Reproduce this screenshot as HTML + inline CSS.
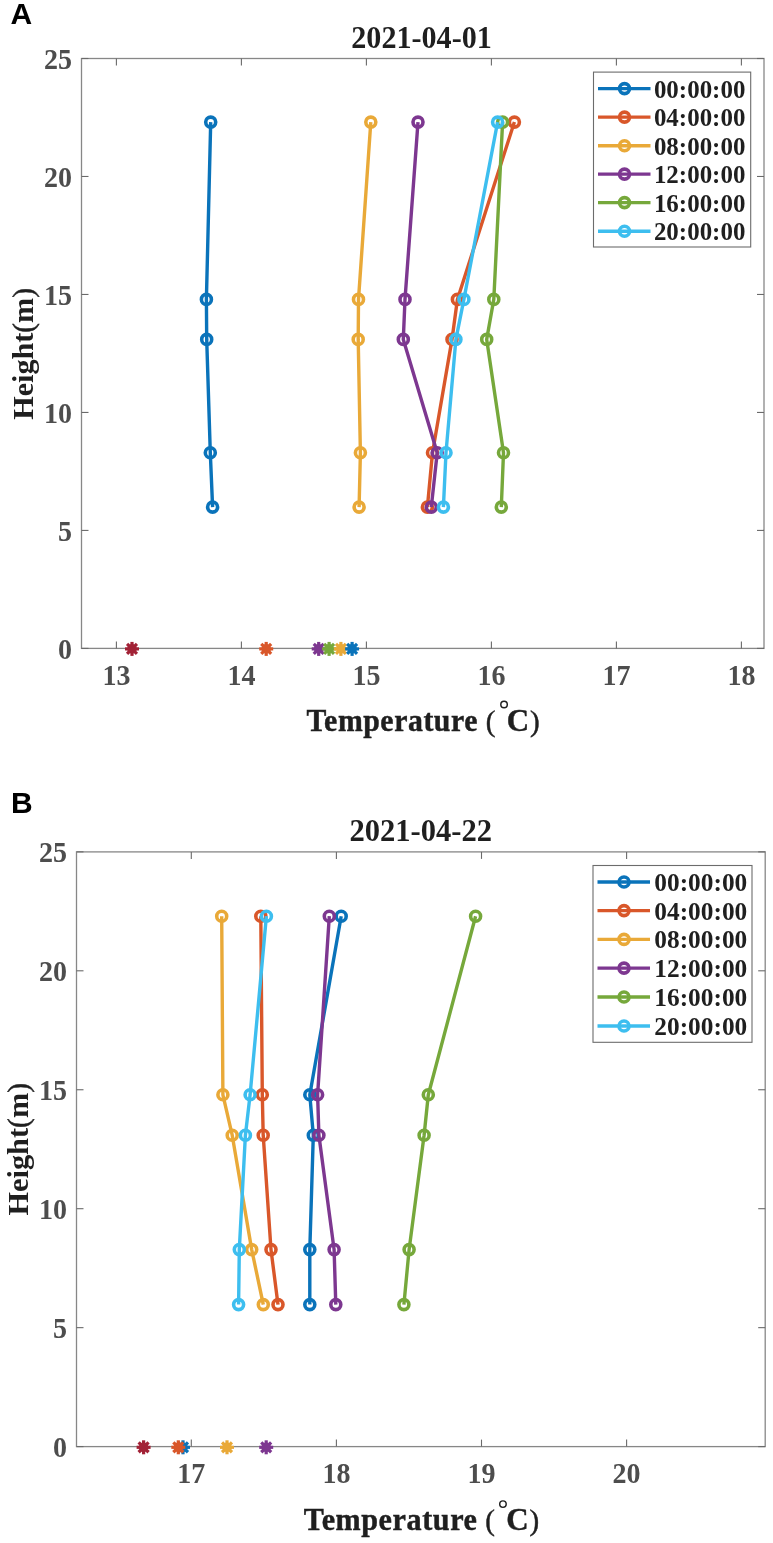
<!DOCTYPE html>
<html><head><meta charset="utf-8"><style>
html,body{margin:0;padding:0;background:#fff;}
body{width:773px;height:1543px;overflow:hidden;position:relative;}
svg{position:absolute;left:0;top:0;will-change:transform;}
text{font-family:"Liberation Serif",serif;font-weight:bold;}
.tk{font-size:29.5px;fill:#4d4d4d;}
.ti{font-size:31px;fill:#1f1f1f;}
.lg{font-size:25px;fill:#1f1f1f;}
.xl{font-size:31px;fill:#1f1f1f;}
.pr{font-size:29px;font-weight:normal;fill:#1f1f1f;stroke:#1f1f1f;stroke-width:0.5px;}
.deg{font-size:13px;font-weight:normal;fill:#1f1f1f;}
.lt{font-family:"Liberation Sans",sans-serif;font-size:30px;fill:#000;}
</style></head><body>
<svg width="773" height="1543" viewBox="0 0 773 1543">
<rect width="773" height="1543" fill="#fff"/>
<rect x="81.5" y="58.5" width="682.5" height="589.9" fill="none" stroke="#878787" stroke-width="1.3"/>
<line x1="116.4" y1="648.4" x2="116.4" y2="641.4" stroke="#6a6a6a" stroke-width="1.1"/>
<line x1="116.4" y1="58.5" x2="116.4" y2="65.5" stroke="#6a6a6a" stroke-width="1.1"/>
<text x="116.4" y="684.5" text-anchor="middle" class="tk" textLength="28" lengthAdjust="spacingAndGlyphs">13</text>
<line x1="241.4" y1="648.4" x2="241.4" y2="641.4" stroke="#6a6a6a" stroke-width="1.1"/>
<line x1="241.4" y1="58.5" x2="241.4" y2="65.5" stroke="#6a6a6a" stroke-width="1.1"/>
<text x="241.4" y="684.5" text-anchor="middle" class="tk" textLength="28" lengthAdjust="spacingAndGlyphs">14</text>
<line x1="366.4" y1="648.4" x2="366.4" y2="641.4" stroke="#6a6a6a" stroke-width="1.1"/>
<line x1="366.4" y1="58.5" x2="366.4" y2="65.5" stroke="#6a6a6a" stroke-width="1.1"/>
<text x="366.4" y="684.5" text-anchor="middle" class="tk" textLength="28" lengthAdjust="spacingAndGlyphs">15</text>
<line x1="491.4" y1="648.4" x2="491.4" y2="641.4" stroke="#6a6a6a" stroke-width="1.1"/>
<line x1="491.4" y1="58.5" x2="491.4" y2="65.5" stroke="#6a6a6a" stroke-width="1.1"/>
<text x="491.4" y="684.5" text-anchor="middle" class="tk" textLength="28" lengthAdjust="spacingAndGlyphs">16</text>
<line x1="616.4" y1="648.4" x2="616.4" y2="641.4" stroke="#6a6a6a" stroke-width="1.1"/>
<line x1="616.4" y1="58.5" x2="616.4" y2="65.5" stroke="#6a6a6a" stroke-width="1.1"/>
<text x="616.4" y="684.5" text-anchor="middle" class="tk" textLength="28" lengthAdjust="spacingAndGlyphs">17</text>
<line x1="741.4" y1="648.4" x2="741.4" y2="641.4" stroke="#6a6a6a" stroke-width="1.1"/>
<line x1="741.4" y1="58.5" x2="741.4" y2="65.5" stroke="#6a6a6a" stroke-width="1.1"/>
<text x="741.4" y="684.5" text-anchor="middle" class="tk" textLength="28" lengthAdjust="spacingAndGlyphs">18</text>
<line x1="81.5" y1="648.40" x2="88.5" y2="648.40" stroke="#6a6a6a" stroke-width="1.1"/>
<line x1="764.0" y1="648.40" x2="757.0" y2="648.40" stroke="#6a6a6a" stroke-width="1.1"/>
<text x="72.1" y="658.60" text-anchor="end" class="tk" textLength="14" lengthAdjust="spacingAndGlyphs">0</text>
<line x1="81.5" y1="530.42" x2="88.5" y2="530.42" stroke="#6a6a6a" stroke-width="1.1"/>
<line x1="764.0" y1="530.42" x2="757.0" y2="530.42" stroke="#6a6a6a" stroke-width="1.1"/>
<text x="72.1" y="540.62" text-anchor="end" class="tk" textLength="14" lengthAdjust="spacingAndGlyphs">5</text>
<line x1="81.5" y1="412.44" x2="88.5" y2="412.44" stroke="#6a6a6a" stroke-width="1.1"/>
<line x1="764.0" y1="412.44" x2="757.0" y2="412.44" stroke="#6a6a6a" stroke-width="1.1"/>
<text x="72.1" y="422.64" text-anchor="end" class="tk" textLength="28" lengthAdjust="spacingAndGlyphs">10</text>
<line x1="81.5" y1="294.46" x2="88.5" y2="294.46" stroke="#6a6a6a" stroke-width="1.1"/>
<line x1="764.0" y1="294.46" x2="757.0" y2="294.46" stroke="#6a6a6a" stroke-width="1.1"/>
<text x="72.1" y="304.66" text-anchor="end" class="tk" textLength="28" lengthAdjust="spacingAndGlyphs">15</text>
<line x1="81.5" y1="176.48" x2="88.5" y2="176.48" stroke="#6a6a6a" stroke-width="1.1"/>
<line x1="764.0" y1="176.48" x2="757.0" y2="176.48" stroke="#6a6a6a" stroke-width="1.1"/>
<text x="72.1" y="186.68" text-anchor="end" class="tk" textLength="28" lengthAdjust="spacingAndGlyphs">20</text>
<line x1="81.5" y1="58.50" x2="88.5" y2="58.50" stroke="#6a6a6a" stroke-width="1.1"/>
<line x1="764.0" y1="58.50" x2="757.0" y2="58.50" stroke="#6a6a6a" stroke-width="1.1"/>
<text x="72.1" y="68.70" text-anchor="end" class="tk" textLength="28" lengthAdjust="spacingAndGlyphs">25</text>
<polyline points="210.7,122.1 206.4,299.4 206.7,339.4 210.3,452.7 212.6,507.1" fill="none" stroke="#0A73BA" stroke-width="3.4" stroke-linejoin="round"/>
<circle cx="210.7" cy="122.1" r="5" fill="none" stroke="#0A73BA" stroke-width="3.6"/>
<circle cx="206.4" cy="299.4" r="5" fill="none" stroke="#0A73BA" stroke-width="3.6"/>
<circle cx="206.7" cy="339.4" r="5" fill="none" stroke="#0A73BA" stroke-width="3.6"/>
<circle cx="210.3" cy="452.7" r="5" fill="none" stroke="#0A73BA" stroke-width="3.6"/>
<circle cx="212.6" cy="507.1" r="5" fill="none" stroke="#0A73BA" stroke-width="3.6"/>
<polyline points="514.4,122.1 457.4,299.4 452.0,339.4 432.5,452.7 427.4,507.1" fill="none" stroke="#D9572A" stroke-width="3.4" stroke-linejoin="round"/>
<circle cx="514.4" cy="122.1" r="5" fill="none" stroke="#D9572A" stroke-width="3.6"/>
<circle cx="457.4" cy="299.4" r="5" fill="none" stroke="#D9572A" stroke-width="3.6"/>
<circle cx="452.0" cy="339.4" r="5" fill="none" stroke="#D9572A" stroke-width="3.6"/>
<circle cx="432.5" cy="452.7" r="5" fill="none" stroke="#D9572A" stroke-width="3.6"/>
<circle cx="427.4" cy="507.1" r="5" fill="none" stroke="#D9572A" stroke-width="3.6"/>
<polyline points="370.8,122.1 358.5,299.4 358.2,339.4 360.4,452.7 359.1,507.1" fill="none" stroke="#E9A938" stroke-width="3.4" stroke-linejoin="round"/>
<circle cx="370.8" cy="122.1" r="5" fill="none" stroke="#E9A938" stroke-width="3.6"/>
<circle cx="358.5" cy="299.4" r="5" fill="none" stroke="#E9A938" stroke-width="3.6"/>
<circle cx="358.2" cy="339.4" r="5" fill="none" stroke="#E9A938" stroke-width="3.6"/>
<circle cx="360.4" cy="452.7" r="5" fill="none" stroke="#E9A938" stroke-width="3.6"/>
<circle cx="359.1" cy="507.1" r="5" fill="none" stroke="#E9A938" stroke-width="3.6"/>
<polyline points="418.0,122.1 405.0,299.4 403.3,339.4 437.2,452.7 431.3,507.1" fill="none" stroke="#7D3790" stroke-width="3.4" stroke-linejoin="round"/>
<circle cx="418.0" cy="122.1" r="5" fill="none" stroke="#7D3790" stroke-width="3.6"/>
<circle cx="405.0" cy="299.4" r="5" fill="none" stroke="#7D3790" stroke-width="3.6"/>
<circle cx="403.3" cy="339.4" r="5" fill="none" stroke="#7D3790" stroke-width="3.6"/>
<circle cx="437.2" cy="452.7" r="5" fill="none" stroke="#7D3790" stroke-width="3.6"/>
<circle cx="431.3" cy="507.1" r="5" fill="none" stroke="#7D3790" stroke-width="3.6"/>
<polyline points="502.6,122.1 493.8,299.4 486.7,339.4 503.5,452.7 501.3,507.1" fill="none" stroke="#76A83B" stroke-width="3.4" stroke-linejoin="round"/>
<circle cx="502.6" cy="122.1" r="5" fill="none" stroke="#76A83B" stroke-width="3.6"/>
<circle cx="493.8" cy="299.4" r="5" fill="none" stroke="#76A83B" stroke-width="3.6"/>
<circle cx="486.7" cy="339.4" r="5" fill="none" stroke="#76A83B" stroke-width="3.6"/>
<circle cx="503.5" cy="452.7" r="5" fill="none" stroke="#76A83B" stroke-width="3.6"/>
<circle cx="501.3" cy="507.1" r="5" fill="none" stroke="#76A83B" stroke-width="3.6"/>
<polyline points="497.6,122.1 463.9,299.4 455.9,339.4 446.0,452.7 443.4,507.1" fill="none" stroke="#3DBEEF" stroke-width="3.4" stroke-linejoin="round"/>
<circle cx="497.6" cy="122.1" r="5" fill="none" stroke="#3DBEEF" stroke-width="3.6"/>
<circle cx="463.9" cy="299.4" r="5" fill="none" stroke="#3DBEEF" stroke-width="3.6"/>
<circle cx="455.9" cy="339.4" r="5" fill="none" stroke="#3DBEEF" stroke-width="3.6"/>
<circle cx="446.0" cy="452.7" r="5" fill="none" stroke="#3DBEEF" stroke-width="3.6"/>
<circle cx="443.4" cy="507.1" r="5" fill="none" stroke="#3DBEEF" stroke-width="3.6"/>
<g stroke="#A22236" stroke-width="3.2"><line x1="125.00" y1="648.90" x2="139.00" y2="648.90"/><line x1="127.05" y1="643.95" x2="136.95" y2="653.85"/><line x1="132.00" y1="641.90" x2="132.00" y2="655.90"/><line x1="136.95" y1="643.95" x2="127.05" y2="653.85"/><circle cx="132.0" cy="648.9" r="4.8" fill="#A22236" stroke="none"/></g>
<g stroke="#D9572A" stroke-width="3.2"><line x1="259.20" y1="648.90" x2="273.20" y2="648.90"/><line x1="261.25" y1="643.95" x2="271.15" y2="653.85"/><line x1="266.20" y1="641.90" x2="266.20" y2="655.90"/><line x1="271.15" y1="643.95" x2="261.25" y2="653.85"/><circle cx="266.2" cy="648.9" r="4.8" fill="#D9572A" stroke="none"/></g>
<g stroke="#7D3790" stroke-width="3.2"><line x1="311.70" y1="648.90" x2="325.70" y2="648.90"/><line x1="313.75" y1="643.95" x2="323.65" y2="653.85"/><line x1="318.70" y1="641.90" x2="318.70" y2="655.90"/><line x1="323.65" y1="643.95" x2="313.75" y2="653.85"/><circle cx="318.7" cy="648.9" r="4.8" fill="#7D3790" stroke="none"/></g>
<g stroke="#76A83B" stroke-width="3.2"><line x1="322.10" y1="648.90" x2="336.10" y2="648.90"/><line x1="324.15" y1="643.95" x2="334.05" y2="653.85"/><line x1="329.10" y1="641.90" x2="329.10" y2="655.90"/><line x1="334.05" y1="643.95" x2="324.15" y2="653.85"/><circle cx="329.1" cy="648.9" r="4.8" fill="#76A83B" stroke="none"/></g>
<g stroke="#E9A938" stroke-width="3.2"><line x1="333.90" y1="648.90" x2="347.90" y2="648.90"/><line x1="335.95" y1="643.95" x2="345.85" y2="653.85"/><line x1="340.90" y1="641.90" x2="340.90" y2="655.90"/><line x1="345.85" y1="643.95" x2="335.95" y2="653.85"/><circle cx="340.9" cy="648.9" r="4.8" fill="#E9A938" stroke="none"/></g>
<g stroke="#0A73BA" stroke-width="3.2"><line x1="345.10" y1="648.90" x2="359.10" y2="648.90"/><line x1="347.15" y1="643.95" x2="357.05" y2="653.85"/><line x1="352.10" y1="641.90" x2="352.10" y2="655.90"/><line x1="357.05" y1="643.95" x2="347.15" y2="653.85"/><circle cx="352.1" cy="648.9" r="4.8" fill="#0A73BA" stroke="none"/></g>
<text x="351.3" y="48.2" class="ti" textLength="140.5" lengthAdjust="spacingAndGlyphs">2021-04-01</text>
<rect x="593.5" y="72.1" width="157.20000000000005" height="174.9" fill="#fff" stroke="#6c6c6c" stroke-width="1.1"/>
<line x1="598.0" y1="88.6" x2="650.5" y2="88.6" stroke="#0A73BA" stroke-width="3.4"/>
<circle cx="624.5" cy="88.6" r="5" fill="none" stroke="#0A73BA" stroke-width="3.6"/>
<text x="653.9" y="97.5" class="lg" textLength="91.5" lengthAdjust="spacingAndGlyphs">00:00:00</text>
<line x1="598.0" y1="117.1" x2="650.5" y2="117.1" stroke="#D9572A" stroke-width="3.4"/>
<circle cx="624.5" cy="117.1" r="5" fill="none" stroke="#D9572A" stroke-width="3.6"/>
<text x="653.9" y="126.0" class="lg" textLength="91.5" lengthAdjust="spacingAndGlyphs">04:00:00</text>
<line x1="598.0" y1="145.7" x2="650.5" y2="145.7" stroke="#E9A938" stroke-width="3.4"/>
<circle cx="624.5" cy="145.7" r="5" fill="none" stroke="#E9A938" stroke-width="3.6"/>
<text x="653.9" y="154.6" class="lg" textLength="91.5" lengthAdjust="spacingAndGlyphs">08:00:00</text>
<line x1="598.0" y1="174.1" x2="650.5" y2="174.1" stroke="#7D3790" stroke-width="3.4"/>
<circle cx="624.5" cy="174.1" r="5" fill="none" stroke="#7D3790" stroke-width="3.6"/>
<text x="653.9" y="183.0" class="lg" textLength="91.5" lengthAdjust="spacingAndGlyphs">12:00:00</text>
<line x1="598.0" y1="202.6" x2="650.5" y2="202.6" stroke="#76A83B" stroke-width="3.4"/>
<circle cx="624.5" cy="202.6" r="5" fill="none" stroke="#76A83B" stroke-width="3.6"/>
<text x="653.9" y="211.5" class="lg" textLength="91.5" lengthAdjust="spacingAndGlyphs">16:00:00</text>
<line x1="598.0" y1="231.2" x2="650.5" y2="231.2" stroke="#3DBEEF" stroke-width="3.4"/>
<circle cx="624.5" cy="231.2" r="5" fill="none" stroke="#3DBEEF" stroke-width="3.6"/>
<text x="653.9" y="240.1" class="lg" textLength="91.5" lengthAdjust="spacingAndGlyphs">20:00:00</text>
<text x="10.6" y="23.9" class="lt">A</text>
<text x="306.43" y="730.5" class="xl" style="letter-spacing:0.6px;stroke:#1f1f1f;stroke-width:0.45px" textLength="171.6" lengthAdjust="spacingAndGlyphs">Temperature</text>
<text x="485.83" y="730.5" class="pr">(</text>
<circle cx="504.05" cy="704.55" r="3.25" fill="none" stroke="#1f1f1f" stroke-width="1.45"/>
<text x="506.8" y="730.5" class="xl" style="stroke:#1f1f1f;stroke-width:0.4px">C</text>
<text x="529.92" y="730.5" class="pr">)</text>
<text transform="translate(33.2,419.7) rotate(-90)" x="0" y="0" class="xl" style="font-size:30px" textLength="131.59999999999997" lengthAdjust="spacingAndGlyphs">Height<tspan class="pr">(</tspan>m<tspan class="pr">)</tspan></text>
<rect x="76.5" y="851.9" width="688.7" height="594.6999999999999" fill="none" stroke="#878787" stroke-width="1.3"/>
<line x1="191.3" y1="1446.6" x2="191.3" y2="1439.6" stroke="#6a6a6a" stroke-width="1.1"/>
<line x1="191.3" y1="851.9" x2="191.3" y2="858.9" stroke="#6a6a6a" stroke-width="1.1"/>
<text x="191.3" y="1482.6999999999998" text-anchor="middle" class="tk" textLength="28" lengthAdjust="spacingAndGlyphs">17</text>
<line x1="336.4" y1="1446.6" x2="336.4" y2="1439.6" stroke="#6a6a6a" stroke-width="1.1"/>
<line x1="336.4" y1="851.9" x2="336.4" y2="858.9" stroke="#6a6a6a" stroke-width="1.1"/>
<text x="336.4" y="1482.6999999999998" text-anchor="middle" class="tk" textLength="28" lengthAdjust="spacingAndGlyphs">18</text>
<line x1="481.5" y1="1446.6" x2="481.5" y2="1439.6" stroke="#6a6a6a" stroke-width="1.1"/>
<line x1="481.5" y1="851.9" x2="481.5" y2="858.9" stroke="#6a6a6a" stroke-width="1.1"/>
<text x="481.5" y="1482.6999999999998" text-anchor="middle" class="tk" textLength="28" lengthAdjust="spacingAndGlyphs">19</text>
<line x1="626.5999999999999" y1="1446.6" x2="626.5999999999999" y2="1439.6" stroke="#6a6a6a" stroke-width="1.1"/>
<line x1="626.5999999999999" y1="851.9" x2="626.5999999999999" y2="858.9" stroke="#6a6a6a" stroke-width="1.1"/>
<text x="626.5999999999999" y="1482.6999999999998" text-anchor="middle" class="tk" textLength="28" lengthAdjust="spacingAndGlyphs">20</text>
<line x1="76.5" y1="1446.60" x2="83.5" y2="1446.60" stroke="#6a6a6a" stroke-width="1.1"/>
<line x1="765.2" y1="1446.60" x2="758.2" y2="1446.60" stroke="#6a6a6a" stroke-width="1.1"/>
<text x="67.1" y="1456.80" text-anchor="end" class="tk" textLength="14" lengthAdjust="spacingAndGlyphs">0</text>
<line x1="76.5" y1="1327.65" x2="83.5" y2="1327.65" stroke="#6a6a6a" stroke-width="1.1"/>
<line x1="765.2" y1="1327.65" x2="758.2" y2="1327.65" stroke="#6a6a6a" stroke-width="1.1"/>
<text x="67.1" y="1337.85" text-anchor="end" class="tk" textLength="14" lengthAdjust="spacingAndGlyphs">5</text>
<line x1="76.5" y1="1208.70" x2="83.5" y2="1208.70" stroke="#6a6a6a" stroke-width="1.1"/>
<line x1="765.2" y1="1208.70" x2="758.2" y2="1208.70" stroke="#6a6a6a" stroke-width="1.1"/>
<text x="67.1" y="1218.90" text-anchor="end" class="tk" textLength="28" lengthAdjust="spacingAndGlyphs">10</text>
<line x1="76.5" y1="1089.75" x2="83.5" y2="1089.75" stroke="#6a6a6a" stroke-width="1.1"/>
<line x1="765.2" y1="1089.75" x2="758.2" y2="1089.75" stroke="#6a6a6a" stroke-width="1.1"/>
<text x="67.1" y="1099.95" text-anchor="end" class="tk" textLength="28" lengthAdjust="spacingAndGlyphs">15</text>
<line x1="76.5" y1="970.80" x2="83.5" y2="970.80" stroke="#6a6a6a" stroke-width="1.1"/>
<line x1="765.2" y1="970.80" x2="758.2" y2="970.80" stroke="#6a6a6a" stroke-width="1.1"/>
<text x="67.1" y="981.00" text-anchor="end" class="tk" textLength="28" lengthAdjust="spacingAndGlyphs">20</text>
<line x1="76.5" y1="851.85" x2="83.5" y2="851.85" stroke="#6a6a6a" stroke-width="1.1"/>
<line x1="765.2" y1="851.85" x2="758.2" y2="851.85" stroke="#6a6a6a" stroke-width="1.1"/>
<text x="67.1" y="862.05" text-anchor="end" class="tk" textLength="28" lengthAdjust="spacingAndGlyphs">25</text>
<polyline points="341.2,916.2 309.8,1094.8 313.3,1135.2 309.8,1249.6 309.8,1304.6" fill="none" stroke="#0A73BA" stroke-width="3.4" stroke-linejoin="round"/>
<circle cx="341.2" cy="916.2" r="5" fill="none" stroke="#0A73BA" stroke-width="3.6"/>
<circle cx="309.8" cy="1094.8" r="5" fill="none" stroke="#0A73BA" stroke-width="3.6"/>
<circle cx="313.3" cy="1135.2" r="5" fill="none" stroke="#0A73BA" stroke-width="3.6"/>
<circle cx="309.8" cy="1249.6" r="5" fill="none" stroke="#0A73BA" stroke-width="3.6"/>
<circle cx="309.8" cy="1304.6" r="5" fill="none" stroke="#0A73BA" stroke-width="3.6"/>
<polyline points="260.8,916.2 262.3,1094.8 263.2,1135.2 271.0,1249.6 278.0,1304.6" fill="none" stroke="#D9572A" stroke-width="3.4" stroke-linejoin="round"/>
<circle cx="260.8" cy="916.2" r="5" fill="none" stroke="#D9572A" stroke-width="3.6"/>
<circle cx="262.3" cy="1094.8" r="5" fill="none" stroke="#D9572A" stroke-width="3.6"/>
<circle cx="263.2" cy="1135.2" r="5" fill="none" stroke="#D9572A" stroke-width="3.6"/>
<circle cx="271.0" cy="1249.6" r="5" fill="none" stroke="#D9572A" stroke-width="3.6"/>
<circle cx="278.0" cy="1304.6" r="5" fill="none" stroke="#D9572A" stroke-width="3.6"/>
<polyline points="221.7,916.2 222.9,1094.8 232.2,1135.2 251.7,1249.6 263.3,1304.6" fill="none" stroke="#E9A938" stroke-width="3.4" stroke-linejoin="round"/>
<circle cx="221.7" cy="916.2" r="5" fill="none" stroke="#E9A938" stroke-width="3.6"/>
<circle cx="222.9" cy="1094.8" r="5" fill="none" stroke="#E9A938" stroke-width="3.6"/>
<circle cx="232.2" cy="1135.2" r="5" fill="none" stroke="#E9A938" stroke-width="3.6"/>
<circle cx="251.7" cy="1249.6" r="5" fill="none" stroke="#E9A938" stroke-width="3.6"/>
<circle cx="263.3" cy="1304.6" r="5" fill="none" stroke="#E9A938" stroke-width="3.6"/>
<polyline points="329.3,916.2 317.6,1094.8 318.9,1135.2 334.1,1249.6 335.8,1304.6" fill="none" stroke="#7D3790" stroke-width="3.4" stroke-linejoin="round"/>
<circle cx="329.3" cy="916.2" r="5" fill="none" stroke="#7D3790" stroke-width="3.6"/>
<circle cx="317.6" cy="1094.8" r="5" fill="none" stroke="#7D3790" stroke-width="3.6"/>
<circle cx="318.9" cy="1135.2" r="5" fill="none" stroke="#7D3790" stroke-width="3.6"/>
<circle cx="334.1" cy="1249.6" r="5" fill="none" stroke="#7D3790" stroke-width="3.6"/>
<circle cx="335.8" cy="1304.6" r="5" fill="none" stroke="#7D3790" stroke-width="3.6"/>
<polyline points="475.6,916.2 428.3,1094.8 424.1,1135.2 409.1,1249.6 403.9,1304.6" fill="none" stroke="#76A83B" stroke-width="3.4" stroke-linejoin="round"/>
<circle cx="475.6" cy="916.2" r="5" fill="none" stroke="#76A83B" stroke-width="3.6"/>
<circle cx="428.3" cy="1094.8" r="5" fill="none" stroke="#76A83B" stroke-width="3.6"/>
<circle cx="424.1" cy="1135.2" r="5" fill="none" stroke="#76A83B" stroke-width="3.6"/>
<circle cx="409.1" cy="1249.6" r="5" fill="none" stroke="#76A83B" stroke-width="3.6"/>
<circle cx="403.9" cy="1304.6" r="5" fill="none" stroke="#76A83B" stroke-width="3.6"/>
<polyline points="266.4,916.2 250.1,1094.8 245.4,1135.2 239.3,1249.6 238.6,1304.6" fill="none" stroke="#3DBEEF" stroke-width="3.4" stroke-linejoin="round"/>
<circle cx="266.4" cy="916.2" r="5" fill="none" stroke="#3DBEEF" stroke-width="3.6"/>
<circle cx="250.1" cy="1094.8" r="5" fill="none" stroke="#3DBEEF" stroke-width="3.6"/>
<circle cx="245.4" cy="1135.2" r="5" fill="none" stroke="#3DBEEF" stroke-width="3.6"/>
<circle cx="239.3" cy="1249.6" r="5" fill="none" stroke="#3DBEEF" stroke-width="3.6"/>
<circle cx="238.6" cy="1304.6" r="5" fill="none" stroke="#3DBEEF" stroke-width="3.6"/>
<g stroke="#A22236" stroke-width="3.2"><line x1="136.60" y1="1447.30" x2="150.60" y2="1447.30"/><line x1="138.65" y1="1442.35" x2="148.55" y2="1452.25"/><line x1="143.60" y1="1440.30" x2="143.60" y2="1454.30"/><line x1="148.55" y1="1442.35" x2="138.65" y2="1452.25"/><circle cx="143.6" cy="1447.3" r="4.8" fill="#A22236" stroke="none"/></g>
<g stroke="#0A73BA" stroke-width="3.2"><line x1="176.00" y1="1447.30" x2="190.00" y2="1447.30"/><line x1="178.05" y1="1442.35" x2="187.95" y2="1452.25"/><line x1="183.00" y1="1440.30" x2="183.00" y2="1454.30"/><line x1="187.95" y1="1442.35" x2="178.05" y2="1452.25"/><circle cx="183.0" cy="1447.3" r="4.8" fill="#0A73BA" stroke="none"/></g>
<g stroke="#D9572A" stroke-width="3.2"><line x1="171.30" y1="1447.30" x2="185.30" y2="1447.30"/><line x1="173.35" y1="1442.35" x2="183.25" y2="1452.25"/><line x1="178.30" y1="1440.30" x2="178.30" y2="1454.30"/><line x1="183.25" y1="1442.35" x2="173.35" y2="1452.25"/><circle cx="178.3" cy="1447.3" r="4.8" fill="#D9572A" stroke="none"/></g>
<g stroke="#E9A938" stroke-width="3.2"><line x1="220.00" y1="1447.30" x2="234.00" y2="1447.30"/><line x1="222.05" y1="1442.35" x2="231.95" y2="1452.25"/><line x1="227.00" y1="1440.30" x2="227.00" y2="1454.30"/><line x1="231.95" y1="1442.35" x2="222.05" y2="1452.25"/><circle cx="227.0" cy="1447.3" r="4.8" fill="#E9A938" stroke="none"/></g>
<g stroke="#7D3790" stroke-width="3.2"><line x1="259.20" y1="1447.30" x2="273.20" y2="1447.30"/><line x1="261.25" y1="1442.35" x2="271.15" y2="1452.25"/><line x1="266.20" y1="1440.30" x2="266.20" y2="1454.30"/><line x1="271.15" y1="1442.35" x2="261.25" y2="1452.25"/><circle cx="266.2" cy="1447.3" r="4.8" fill="#7D3790" stroke="none"/></g>
<text x="349.40000000000003" y="840.8" class="ti" textLength="142.7" lengthAdjust="spacingAndGlyphs">2021-04-22</text>
<rect x="593.0" y="865.5" width="159.0" height="176.79999999999995" fill="#fff" stroke="#6c6c6c" stroke-width="1.1"/>
<line x1="597.5" y1="882.0" x2="650.0" y2="882.0" stroke="#0A73BA" stroke-width="3.4"/>
<circle cx="624.0" cy="882.0" r="5" fill="none" stroke="#0A73BA" stroke-width="3.6"/>
<text x="654.3" y="890.9" class="lg" textLength="93" lengthAdjust="spacingAndGlyphs">00:00:00</text>
<line x1="597.5" y1="910.6" x2="650.0" y2="910.6" stroke="#D9572A" stroke-width="3.4"/>
<circle cx="624.0" cy="910.6" r="5" fill="none" stroke="#D9572A" stroke-width="3.6"/>
<text x="654.3" y="919.5" class="lg" textLength="93" lengthAdjust="spacingAndGlyphs">04:00:00</text>
<line x1="597.5" y1="939.4" x2="650.0" y2="939.4" stroke="#E9A938" stroke-width="3.4"/>
<circle cx="624.0" cy="939.4" r="5" fill="none" stroke="#E9A938" stroke-width="3.6"/>
<text x="654.3" y="948.3" class="lg" textLength="93" lengthAdjust="spacingAndGlyphs">08:00:00</text>
<line x1="597.5" y1="968.1" x2="650.0" y2="968.1" stroke="#7D3790" stroke-width="3.4"/>
<circle cx="624.0" cy="968.1" r="5" fill="none" stroke="#7D3790" stroke-width="3.6"/>
<text x="654.3" y="977.0" class="lg" textLength="93" lengthAdjust="spacingAndGlyphs">12:00:00</text>
<line x1="597.5" y1="997.0" x2="650.0" y2="997.0" stroke="#76A83B" stroke-width="3.4"/>
<circle cx="624.0" cy="997.0" r="5" fill="none" stroke="#76A83B" stroke-width="3.6"/>
<text x="654.3" y="1005.9" class="lg" textLength="93" lengthAdjust="spacingAndGlyphs">16:00:00</text>
<line x1="597.5" y1="1026.0" x2="650.0" y2="1026.0" stroke="#3DBEEF" stroke-width="3.4"/>
<circle cx="624.0" cy="1026.0" r="5" fill="none" stroke="#3DBEEF" stroke-width="3.6"/>
<text x="654.3" y="1034.9" class="lg" textLength="93" lengthAdjust="spacingAndGlyphs">20:00:00</text>
<text x="10.9" y="812.8" class="lt">B</text>
<text x="303.73" y="1529.75" class="xl" style="letter-spacing:0.6px;stroke:#1f1f1f;stroke-width:0.45px" textLength="173.8" lengthAdjust="spacingAndGlyphs">Temperature</text>
<text x="485.13" y="1529.75" class="pr">(</text>
<circle cx="502.95" cy="1504.1" r="3.25" fill="none" stroke="#1f1f1f" stroke-width="1.45"/>
<text x="506.3" y="1529.75" class="xl" style="stroke:#1f1f1f;stroke-width:0.4px">C</text>
<text x="529.42" y="1529.75" class="pr">)</text>
<text transform="translate(28.4,1215.6) rotate(-90)" x="0" y="0" class="xl" style="font-size:30px" textLength="132.5999999999999" lengthAdjust="spacingAndGlyphs">Height<tspan class="pr">(</tspan>m<tspan class="pr">)</tspan></text>
</svg>
</body></html>
